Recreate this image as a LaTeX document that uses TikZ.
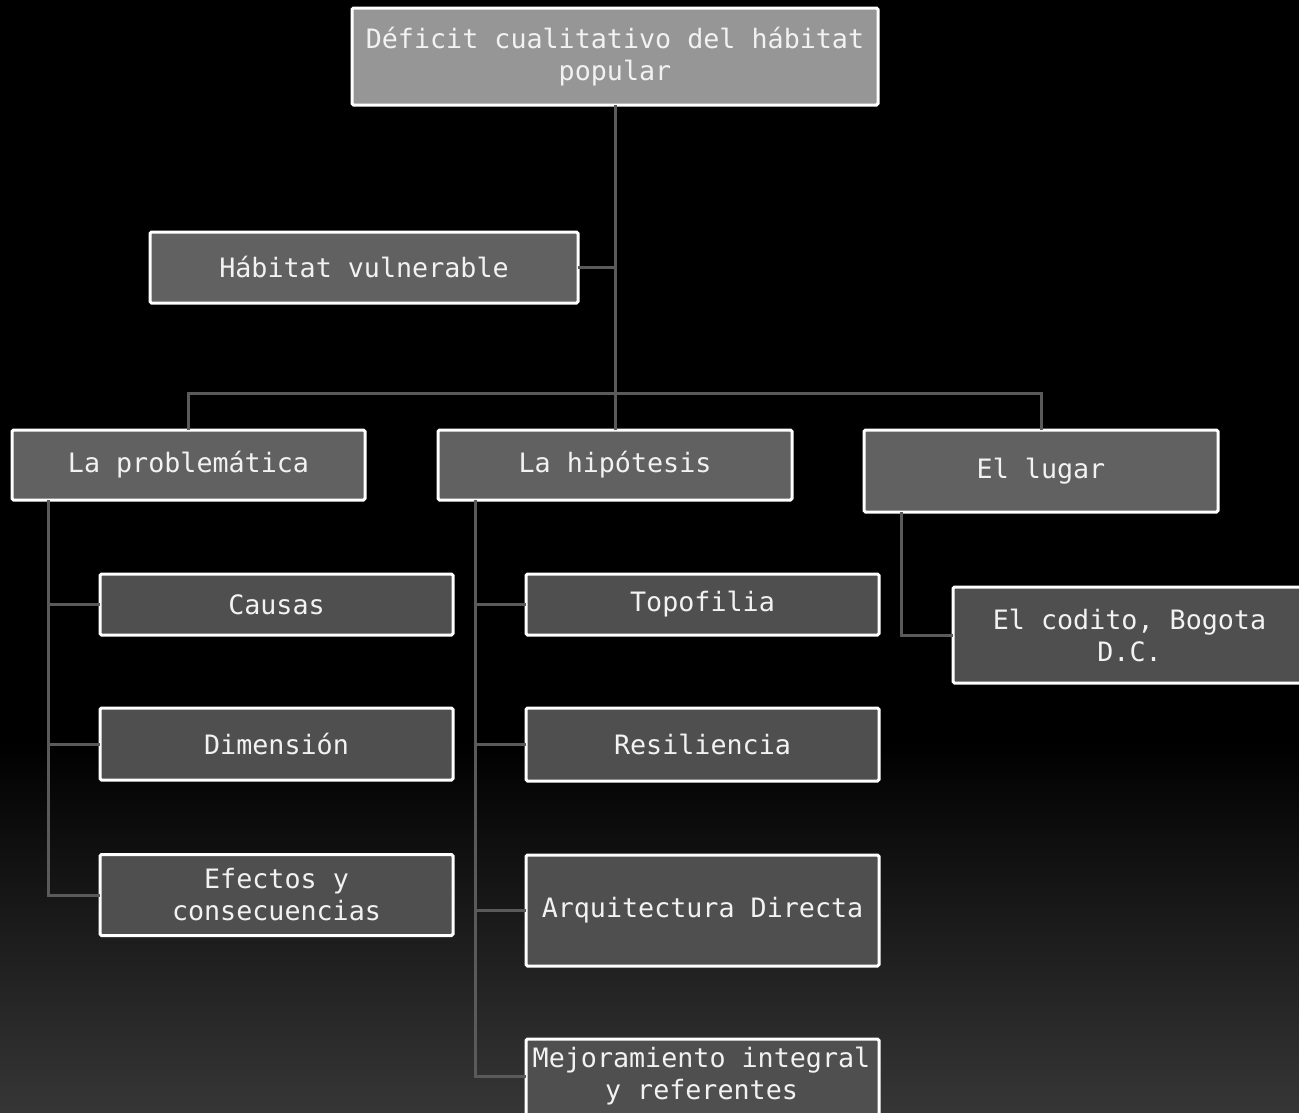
\documentclass[tikz,border=0pt]{standalone}
\usepackage{fontspec}
\setmonofont{DejaVu Sans Mono}
\definecolor{txt}{HTML}{F2F2F2}
\definecolor{fillA}{HTML}{969696}
\definecolor{fillB}{HTML}{616161}
\definecolor{fillC}{HTML}{4F4F4F}
\definecolor{linec}{HTML}{5A5A5A}
\definecolor{bgbot}{HTML}{363636}
\tikzset{
  box/.style={draw=white, line width=3pt, rounded corners=1.5pt, text=txt,
    font=\ttfamily\fontsize{26.7}{32}\selectfont, align=center, inner sep=0pt, outer sep=0pt},
  lvlA/.style={box, fill=fillA},
  lvlB/.style={box, fill=fillB},
  lvlC/.style={box, fill=fillC},
  conn/.style={draw=linec, line width=3pt},
  plain/.style={text=txt, font=\ttfamily\fontsize{26.7}{32}\selectfont, align=center, inner sep=0pt}
}
\begin{document}
\begin{tikzpicture}[x=1pt, y=-1pt]
\useasboundingbox (0,0) rectangle (1299,1112);
\clip (0,0) rectangle (1299,1112);
\fill[black] (0,0) rectangle (1299,1112);
\shade[top color=black, bottom color=bgbot] (0,740) rectangle (1299,1113);

% nodes
\node[lvlA, minimum width=526, minimum height=97] (top) at (615,56.5) {Déficit cualitativo del hábitat\\popular};
\node[lvlB, minimum width=428, minimum height=71] (hab) at (364,267.5) {Hábitat vulnerable};
\node[lvlB, minimum width=353, minimum height=70] (prob) at (188.5,465) {La problemática};
\node[lvlB, minimum width=354, minimum height=70] (hip) at (615,465) {La hipótesis};
\node[lvlB, minimum width=354, minimum height=82] (lugar) at (1041,471) {El lugar};

\node[lvlC, minimum width=353, minimum height=61] (causas) at (276.5,604.5) {Causas};
\node[lvlC, minimum width=353, minimum height=72] (dim) at (276.5,744) {Dimensión};
\node[lvlC, minimum width=353, minimum height=81] (efe) at (276.5,895) {Efectos y\\consecuencias};

\node[lvlC, minimum width=353, minimum height=61] (topo) at (702.5,604.5) {Topofilia};
\node[lvlC, minimum width=353, minimum height=73] (resi) at (702.5,744.5) {Resiliencia};
\node[lvlC, minimum width=353, minimum height=111] (arq) at (702.5,910.5) {Arquitectura Directa};
\node[lvlC, minimum width=353, minimum height=100] (mej) at (702.5,1089) {};
\node[plain] (mejt) at (701.5,1076) {Mejoramiento integral\\y referentes};

\node[lvlC, minimum width=353, minimum height=96] (cod) at (1129.5,635) {El codito, Bogota\\D.C.};

% connectors
\coordinate (j) at (615,393);
\draw[conn] (top.south) -- (j);
\draw[conn] (hab.east) -- (hab.east -| j);
\draw[conn] (prob.north) |- (j) -| (lugar.north);
\draw[conn] (j) -- (hip.north);

\coordinate (pl) at ([xshift=36pt]prob.south west);
\draw[conn] (pl) |- (efe.west);
\draw[conn] (pl |- causas.west) -- (causas.west);
\draw[conn] (pl |- dim.west) -- (dim.west);

\coordinate (hl) at ([xshift=37pt]hip.south west);
\draw[conn] (hl) |- (mej.west |- mejt.center);
\draw[conn] (hl |- topo.west) -- (topo.west);
\draw[conn] (hl |- resi.west) -- (resi.west);
\draw[conn] (hl |- arq.west) -- (arq.west);

\coordinate (ll) at ([xshift=37pt]lugar.south west);
\draw[conn] (ll) |- (cod.west);
\end{tikzpicture}
\end{document}
